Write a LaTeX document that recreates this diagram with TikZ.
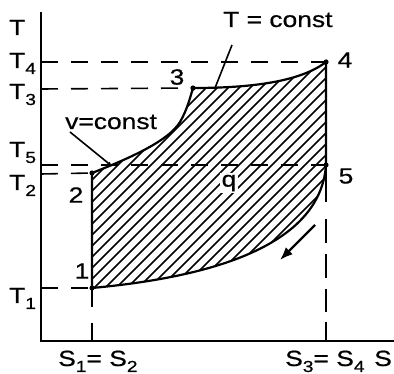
\documentclass[tikz,border=0pt]{standalone}
\usepackage{fontspec}
\setmainfont[FakeStretch=1.2, FakeBold=0.6]{Liberation Sans}
\usetikzlibrary{arrows.meta}

\newcommand\lowidx[1]{\raisebox{-6pt}{\fontsize{16}{16}\selectfont #1}}

\tikzset{
    lbl/.style={inner sep=0pt, anchor=base west, font=\fontsize{22}{24}\selectfont},
    num/.style={inner sep=0pt, font=\fontsize{22}{24}\selectfont},
    dashline/.style={line width=1.6pt, dash pattern=on 17pt off 13pt},
    hatch/.style={line width=1.6pt},
    cycline/.style={line width=2.2pt},
}

\begin{document}
\begin{tikzpicture}[x=1pt, y=-1pt, >=latex]
    \useasboundingbox (0,0) rectangle (394,374);
    % points of the cycle
    \coordinate (p1) at (92,288);
    \coordinate (p2) at (92,173);
    \coordinate (p3) at (193,88);
    \coordinate (p4) at (326,62);
    \coordinate (p5) at (326,165);
    \coordinate (O) at (41,341);

    % hatched area q
    \begin{scope}
        \clip (p1) -- (p2) .. controls (125,160) and (168,142) .. (180,122)
              .. controls (187,110) and (190,98) .. (p3)
              .. controls (250,88) and (300,82) .. (p4) -- (p5)
              .. controls (320,250) and (200,278) .. (p1) -- cycle;
        \foreach \c in {250,261,...,640}
            \draw[hatch] (\c-340,340) -- (\c-40,40);
    \end{scope}
    \node[num, fill=white, inner sep=2pt] (q) at (229,183) {q};

    % dashed helper lines
    \draw[dashline] (41,62) -- (p4);
    \draw[dashline] (41,89) -- (p3);
    \draw[dashline] (41,165) -- (p5);
    \draw[dashline] (41,174) -- (p2);
    \draw[dashline] (41,288) -- (p1);
    \draw[line width=2pt, dash pattern=on 19pt off 16pt] (p1) -- (92,341);
    \draw[line width=2pt, dash pattern=on 37pt off 17pt on 24pt off 11pt on 24pt off 11pt on 23pt off 10pt on 20pt] (p5) -- (326,341);

    % cycle
    \draw[cycline] (p1) -- (p2) .. controls (125,160) and (168,142) .. (180,122)
          .. controls (187,110) and (190,98) .. (p3)
          .. controls (250,88) and (300,82) .. (p4) -- (p5)
          .. controls (320,250) and (200,278) .. (p1);
    \foreach \p in {p1,p2,p3,p4,p5}
        \fill (\p) circle (2.6pt);

    % axes
    \draw[line width=2pt] (41,12) -- (O) -- (394,341);

    % axis labels
    \node[lbl] (lT)  at (9,35)  {T};
    \node[lbl] (lT4) at (9,68)  {T\lowidx{4}};
    \node[lbl] (lT3) at (9,99)  {T\lowidx{3}};
    \node[lbl] (lT5) at (9,157) {T\lowidx{5}};
    \node[lbl] (lT2) at (9,190) {T\lowidx{2}};
    \node[lbl] (lT1) at (9,303) {T\lowidx{1}};
    \node[lbl] (lS12) at (58,366)  {S\lowidx{1}= S\lowidx{2}};
    \node[lbl] (lS34) at (285,366) {S\lowidx{3}= S\lowidx{4}};
    \node[lbl] (lS)   at (374,366) {S};

    % point numbers
    \node[num] (n1) at (82,271) {1};
    \node[num] (n2) at (76,195) {2};
    \node[num] (n3) at (177,77) {3};
    \node[num] (n4) at (345,60) {4};
    \node[num] (n5) at (346,176) {5};

    % process labels
    \node[lbl] (vc) at (65,129) {v=const};
    \node[lbl] (tc) at (223,27) {T = const};
    \coordinate (vtip) at (113,167);
    \coordinate (ttip) at (215,88);
    \draw[line width=1.6pt, -{Latex[length=6pt,width=4pt]}] (70,132) -- (vtip);
    \draw[line width=1.6pt] (232,45) -- (ttip);

    % direction of the cycle
    \coordinate (a0) at (315,225);
    \coordinate (a1) at (280,260);
    \draw[line width=2.4pt, -{Latex[length=13pt,width=10pt]}] (a0) -- (a1);
\end{tikzpicture}
\end{document}
